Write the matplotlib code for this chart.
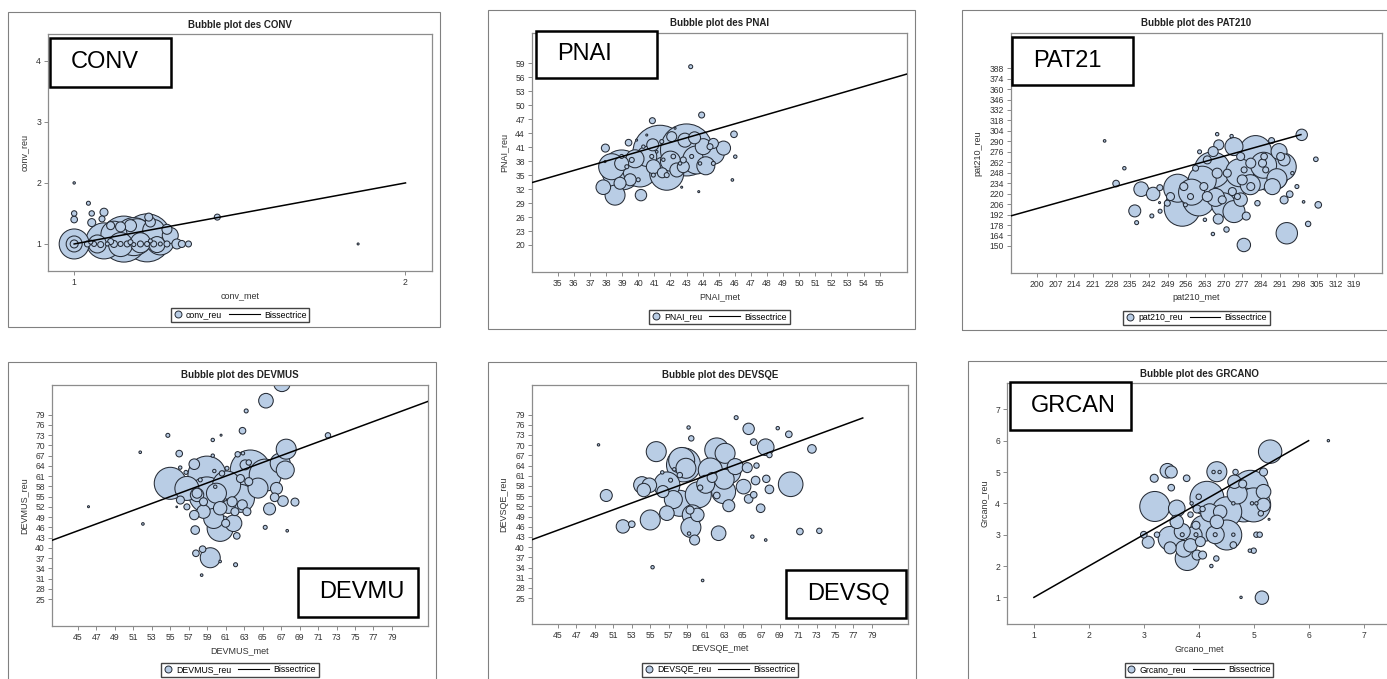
import numpy as np
import matplotlib
matplotlib.use("Agg")
import matplotlib.pyplot as plt
from matplotlib.patches import Rectangle
from matplotlib.lines import Line2D
from matplotlib.legend_handler import HandlerLine2D

plt.rcParams['font.family'] = ['Liberation Sans', 'DejaVu Sans']

# ---- data: (met, reu, bubble radius) per variable ----
conv_met = [1.00, 1.00, 1.00, 1.09, 1.15, 1.22, 1.26, 1.12, 1.19, 1.24, 1.29, 1.07, 1.14, 1.20, 1.25,
            1.17, 1.23, 1.14, 1.28, 1.11, 1.18,
            1.00, 1.00, 1.00, 1.043, 1.053, 1.09, 1.084, 1.053, 1.225, 1.31, 1.325, 1.345, 1.432, 1.857,
            1.04, 1.06, 1.08, 1.10, 1.12, 1.14, 1.16, 1.18, 1.20, 1.22, 1.24, 1.26, 1.28, 1.05, 1.11, 1.17, 1.23]
conv_reu = [1.00, 1.00, 1.00, 1.05, 1.08, 1.10, 1.05, 1.16, 1.20, 1.22, 1.14, 1.00, 0.99, 1.02, 0.99,
            1.30, 1.36, 1.28, 1.24, 1.30, 1.12,
            2.00, 1.50, 1.40, 1.667, 1.50, 1.52, 1.41, 1.35, 1.44, 1.00, 1.00, 1.00, 1.44, 1.00,
            1.00, 1.00, 0.99, 1.00, 1.00, 1.00, 1.00, 0.99, 1.00, 1.00, 1.00, 1.00, 1.00, 1.03, 1.04, 1.03, 1.05]
conv_n = [15, 8, 4, 18, 23, 24, 14, 13, 13, 11, 8, 9, 12, 10, 8,
          6, 5, 5, 5, 4, 19,
          1.2, 2.7, 3.3, 2, 2.7, 4, 3, 4, 4, 5, 3.5, 3, 3, 1,
          3, 2.5, 3, 2, 3.5, 2.5, 3, 2, 3, 2.5, 3, 2, 3, 2, 3, 2.5, 2]

pnai_met = [43.26, 40.88, 43.94, 37.96, 45.95, 46.03, 45.85, 42.7, 43.76, 37.94,
            37.83, 38.56, 40.17, 38.97, 40.11, 41.35, 43.0, 41.77, 43.63, 44.67, 45.3, 38.35, 38.97, 38.87,
            39.4, 40.53, 40.94, 41.5, 42.4, 42.9, 44.04, 42.08,
            40.32, 40.84, 41.56, 42.18, 42.6, 43.32, 43.84, 41.15, 39.9, 42.29, 40.53, 41.46, 39.6, 39.29,
            40.94, 41.77, 42.8, 44.46, 44.67, 40.0, 38.97, 42.8, 44.67, 39.5,
            39.8, 42.0, 44.2, 40.9, 43.5]
pnai_reu = [58.27, 46.68, 47.9, 40.8, 43.76, 38.96, 33.96, 32.4, 31.45, 37.9,
            32.4, 30.7, 30.7, 36.1, 36.1, 39.9, 40.4, 35.4, 38.25, 39.7, 40.8, 36.8, 37.5, 33.25,
            41.96, 39.0, 36.8, 35.5, 36.1, 42.5, 41.1, 43.25,
            41.1, 39.0, 38.3, 39.0, 37.5, 39.0, 37.5, 40.0, 42.5, 45.05, 43.6, 42.2, 38.25, 36.8,
            35.0, 35.0, 38.25, 41.1, 37.5, 34.0, 39.0, 36.8, 41.8, 34.0,
            38.5, 38.0, 37.0, 41.5, 43.0]
pnai_n = [2, 3, 3, 4, 3.3, 1.7, 1.3, 1, 1, 1,
          7.3, 10, 5.7, 20, 17, 27, 26, 17, 14, 11, 7, 13, 7, 6,
          3.3, 10, 7, 5, 7, 7, 8, 5,
          1.7, 2, 1.7, 2.3, 1.7, 2, 1.7, 1.3, 1, 1, 1, 2, 2.5, 2,
          2, 2.5, 3, 3, 2, 2, 2, 6, 5, 6,
          9, 10, 9, 6, 6]

pat_met = [225.4, 232.8, 229.7, 239.1, 243.6, 236.7, 237.4, 243.1, 246.2, 246.1, 246.0,
           254.5, 252.8, 260.7, 265.8, 270.1, 273.9, 277.6, 293.7, 299.3, 304.6, 305.5, 301.7, 300.0, 292.7,
           282.0, 287.7, 282.7, 292.0, 290.8, 288.3, 273.9, 268.2, 266.1, 267.6, 273.0, 288.0, 261.0,
           276.4, 278.5, 268.0, 271.1, 266.0, 263.0,
           276.4, 285.2, 282.7, 294.8, 297.5, 295.8, 255.1, 257.6, 255.7, 263.9, 267.6, 271.4, 273.3,
           262.6, 263.9, 280.2, 284.6, 285.8, 291.4, 277.7, 275.2, 259.5, 248.9, 250.1, 269.5, 277.0,
           280.2, 292.7, 262.0, 276.0, 285.0, 258.0, 270.0, 280.0, 267.0, 290.0]
pat_reu = [290.6, 254.0, 233.5, 226.0, 219.6, 196.9, 181.2, 190.2, 196.5, 228.0, 208.0,
           200.5, 227.3, 211.6, 251.8, 229.4, 196.0, 151.3, 167.0, 298.7, 266.0, 205.0, 179.5, 209.0, 211.6,
           276.3, 247.4, 243.0, 256.0, 276.3, 229.4, 283.0, 285.3, 276.3, 299.6, 297.0, 291.0, 276.0,
           212.0, 190.0, 186.0, 172.0, 166.0, 185.0,
           269.7, 269.7, 207.2, 219.3, 229.5, 247.4, 229.5, 216.1, 205.0, 265.2, 247.4, 247.4, 222.8,
           229.5, 216.1, 229.5, 260.8, 251.8, 269.7, 251.8, 216.1, 254.1, 207.2, 216.1, 211.7, 238.4,
           260.8, 265.2, 238.0, 248.0, 258.0, 222.0, 205.0, 232.0, 215.0, 240.0]
pat_n = [1.3, 1.7, 3.3, 7.3, 6.7, 6, 2, 2, 2, 3, 1,
         18, 14, 16, 18, 21, 11, 6.7, 10.7, 5.7, 2.3, 3.3, 2.7, 1.3, 4,
         16, 18, 14, 14, 8, 8, 9, 5, 5, 1.7, 1.7, 3, 2,
         6.7, 4, 5, 2.7, 1.7, 1.7,
         4, 3.3, 2.7, 3.3, 2, 1.7, 4, 3, 2, 4, 5, 4, 4,
         4, 5, 4, 4, 3, 4, 3, 3, 3, 3, 4, 4, 5,
         5, 6, 14, 14, 13, 13, 12, 10, 9, 10]

devmus_met = [67.09, 65.36, 63.22, 62.82, 60.5, 59.6, 54.74, 51.75, 55.97, 72.07, 67.55, 46.15, 52.04, 55.7,
              55.0, 57.6, 59.6, 57.7, 57.78, 58.5, 59.33, 58.4, 62.07, 60.4, 65.28, 67.66, 68.5, 62.2,
              57.6, 60.4, 59.7, 61.85, 56.1, 56.8, 58.97, 58.97, 61.1, 62.6, 63.66, 65.28, 66.9, 67.45,
              66.5, 66.3, 65.75, 67.2, 57.9, 60.4, 61.3, 62.8, 63.1, 58.6, 62.3,
              62.87, 59.77, 60.6, 61.14, 58.25, 56.7, 56.08, 59.87, 63.5, 62.6, 63.5, 57.9, 61.7, 62.0,
              61.0, 56.8, 63.3, 58.6, 60.0, 64.5]
devmus_reu = [88.2, 83.1, 80.1, 74.3, 73.0, 71.6, 72.95, 68.0, 67.6, 72.95, 68.9, 52.05, 47.0, 52.0,
              58.9, 64.5, 67.0, 45.2, 38.4, 39.6, 37.1, 32.0, 35.05, 36.0, 46.0, 45.0, 53.4, 43.5,
              49.6, 45.7, 48.6, 47.2, 54.0, 57.4, 55.5, 61.3, 58.4, 54.5, 62.8, 61.3, 64.8, 62.8,
              57.4, 54.8, 51.4, 53.7, 55.5, 51.6, 52.05, 52.6, 64.3, 50.6, 67.4,
              67.7, 62.5, 61.8, 63.3, 59.9, 62.1, 63.5, 57.9, 59.4, 60.3, 65.0, 56.0, 53.5, 50.6,
              47.2, 52.0, 50.6, 53.5, 56.0, 57.5]
devmus_n = [8.3, 7.3, 2, 3.3, 1, 1.7, 2, 1.3, 3.3, 2.7, 10, 1, 1.3, 0.8,
            16, 5.3, 1.7, 4.3, 3.3, 3.3, 10, 1.3, 2, 1.3, 2, 1.3, 4, 3.3,
            4.7, 13, 10, 8.3, 4, 12, 18, 19, 14, 14, 20, 16, 10, 9,
            6, 4.3, 6, 5.3, 6.7, 6.7, 6.7, 5, 5, 6.7, 2.7,
            1.7, 1.7, 2.7, 2, 2, 2, 1.7, 1.7, 4, 4, 2.7, 5, 5, 4,
            4, 3, 4, 4, 10, 10]

devsqe_met = [49.4, 50.24, 55.65, 52.04, 53.0, 55.0, 55.25, 60.67, 56.8, 54.1, 54.9, 54.3, 56.37, 58.18,
              56.8, 58.6, 58.4, 58.86, 60.2, 59.55, 59.4, 59.8, 60.1, 59.3, 62.4, 62.94, 62.2, 63.1,
              61.5, 63.5, 64.2, 65.1, 63.5, 65.65, 64.3, 67.5, 70.0, 68.8, 72.5, 70.2, 67.9, 67.56,
              66.4, 66.95, 65.65, 66.2, 66.2, 66.5, 67.9, 65.5, 71.2, 73.3, 66.05, 67.5, 59.15, 59.44,
              56.3, 59.2, 60.4, 58.2, 57.6, 57.2, 61.7, 62.2, 57.5, 61.0, 63.0]
devsqe_reu = [70.1, 55.2, 68.1, 46.1, 46.75, 48.0, 34.1, 30.2, 50.0, 58.3, 58.2, 56.8, 56.35, 52.9,
              58.3, 64.2, 65.5, 63.2, 55.4, 49.5, 45.8, 42.1, 49.5, 50.9, 44.1, 56.35, 68.6, 67.6,
              62.7, 62.2, 63.7, 57.8, 52.2, 74.8, 78.1, 69.4, 73.2, 75.0, 68.9, 58.5, 57.0, 60.1,
              59.6, 51.45, 54.2, 55.4, 70.9, 64.0, 67.1, 63.4, 44.6, 44.8, 43.1, 42.1, 75.2, 72.0,
              62.0, 44.0, 57.5, 61.2, 62.9, 59.7, 60.5, 55.2, 54.0, 58.5, 60.0]
devsqe_n = [1.2, 6, 10, 6.7, 3.3, 10, 1.7, 1.3, 7.3, 8.3, 7.3, 6.7, 6, 13,
            13, 17, 13, 10, 13, 10, 10, 5, 6.7, 4, 7.3, 12, 12, 10,
            12, 12, 8, 7.3, 6, 5.7, 2, 8.3, 3.3, 1.7, 4.3, 12.3, 4.3, 3.7,
            4.3, 4.3, 4.3, 3.3, 3.3, 2.7, 2.7, 5, 3.3, 2.7, 1.7, 1.3, 1.7, 2.7,
            1.7, 1.7, 2.7, 2.7, 1.7, 2, 5, 3.3, 9, 9, 10]

grcano_met = [6.36, 5.30, 5.15, 4.77, 3.19, 3.43, 3.50, 3.50, 3.78, 3.20, 3.00, 3.08, 3.24, 3.48, 3.48,
              3.60, 3.60, 3.79, 3.73, 3.85, 3.97, 4.07, 3.91, 4.09, 4.15, 3.95, 4.03, 4.33, 4.32, 4.23,
              4.33, 4.39, 4.51, 4.51, 4.82, 4.94, 5.00, 5.18, 5.18, 5.18, 5.13, 5.28, 4.67, 4.65, 4.80,
              5.05, 5.11, 5.00, 4.93, 4.63, 4.63, 4.27, 4.38, 4.63, 5.05, 4.97, 3.87, 4.00, 3.97, 4.07,
              3.85, 4.30, 3.70, 3.95, 4.30, 3.70, 4.70, 4.20]
grcano_reu = [6.00, 5.65, 0.99, 1.00, 4.80, 5.04, 5.00, 4.50, 4.80, 3.90, 3.00, 2.76, 3.00, 2.88, 2.58,
              3.84, 3.41, 2.24, 2.55, 2.66, 2.35, 2.35, 2.99, 3.20, 4.16, 3.30, 2.78, 5.01, 2.24, 2.00,
              3.41, 3.73, 2.99, 3.73, 3.95, 4.48, 3.95, 4.37, 3.95, 5.00, 3.68, 3.49, 5.00, 4.69, 4.62,
              3.00, 3.00, 2.49, 2.49, 3.00, 2.67, 5.00, 5.00, 4.00, 4.00, 4.00, 4.00, 4.21, 3.82, 3.82,
              3.64, 3.00, 3.00, 3.00, 3.00, 3.10, 4.30, 3.70]
grcano_n = [1.2, 11.7, 6.7, 1.2, 4, 7.3, 6, 3.3, 3.3, 15, 3.3, 6, 2.7, 12, 6,
            8.3, 6.7, 12, 8.3, 6.7, 5, 4, 8.3, 13, 17, 4, 5, 10, 2.7, 1.7,
            6.7, 6.7, 15, 15, 17, 18, 17, 7.3, 6.7, 4, 2.7, 1, 2.7, 6.7, 4,
            2.7, 2.7, 2.7, 1.7, 1.7, 3.3, 1.7, 1.7, 1.7, 1.7, 1.7, 1.7, 2.7, 4, 2.7,
            2.7, 2, 2, 2, 9, 8, 10, 9]

W, H = 1387, 679
fig = plt.figure(figsize=(W / 100, H / 100), dpi=100)
fig.patch.set_facecolor('white')

FILL = '#b9cde5'
EDGE = '#262c36'


class LongLine(HandlerLine2D):
    # line handle that reaches back into the column gap, so the marker handle can stay short
    def create_artists(self, legend, orig_handle, xdescent, ydescent, width, height, fontsize, trans):
        y = height / 2 - ydescent
        ln = Line2D([-xdescent - 2.6 * fontsize, -xdescent + width], [y, y], color='black', lw=0.8)
        ln.set_transform(trans)
        return [ln]


def px_rect(l, t, r, b):
    return [l / W, 1 - b / H, (r - l) / W, (b - t) / H]


def panel(met, reu, n, name, xname, yname, axbox, frame, xlim, ylim, xticks, yticks,
          line, title_y, lab, lab_box, leg_y):
    # outer frame
    fig.patches.append(Rectangle((frame[0] / W, 1 - frame[3] / H), (frame[2] - frame[0]) / W,
                                 (frame[3] - frame[1]) / H, transform=fig.transFigure,
                                 fill=False, ec='#808080', lw=0.8, zorder=0))
    ax = fig.add_axes(px_rect(*axbox))
    met = np.array(met)
    reu = np.array(reu)
    n = np.array(n, dtype=float)
    order = np.argsort(-n)
    ax.scatter(met[order], reu[order], s=(1.44 * n[order]) ** 2, c=FILL, edgecolors=EDGE,
               linewidths=0.75, zorder=2)
    ax.plot(line, line, color='black', lw=1.1, zorder=3)
    ax.set_xlim(xlim)
    ax.set_ylim(ylim)
    ax.set_xticks(xticks)
    ax.set_yticks(yticks)
    ax.tick_params(labelsize=6.2, length=3, width=0.6, color='#777777', labelcolor='#333333', pad=2)
    for s in ax.spines.values():
        s.set_color('#8c8c8c')
        s.set_linewidth(0.9)
    ax.set_xlabel(xname, fontsize=6.5, color='#333333', labelpad=3)
    ax.set_ylabel(yname, fontsize=6.5, color='#333333', labelpad=5)
    fig.text((axbox[0] + axbox[2]) / 2 / W, 1 - title_y / H, 'Bubble plot des ' + name,
             ha='center', va='center', fontsize=7, fontweight='bold', color='#222222')
    mk = Line2D([], [], marker='o', ls='none', mfc=FILL, mec=EDGE, ms=5, mew=0.7)
    ln = Line2D([], [], color='black', lw=0.8)
    ax.legend([mk, ln], [yname, 'Bissectrice'], loc='center', ncol=2, fontsize=6.3,
              bbox_to_anchor=((axbox[0] + axbox[2]) / 2 / W, 1 - leg_y / H),
              bbox_transform=fig.transFigure, frameon=True, fancybox=False, edgecolor='#444444',
              borderpad=0.3, handlelength=0.9, handletextpad=0.5, columnspacing=3.4,
              borderaxespad=0, framealpha=1, handler_map={ln: LongLine()})
    l, t, r, b = lab_box
    fig.patches.append(Rectangle((l / W, 1 - b / H), (r - l) / W, (b - t) / H,
                                 transform=fig.transFigure, fc='white', ec='black', lw=1.8, zorder=5))
    fig.text((l + 21) / W, 1 - (t + b) / 2 / H, lab, ha='left', va='center', fontsize=17,
             color='black', zorder=6)
    return ax


panel(conv_met, conv_reu, conv_n, 'CONV', 'conv_met', 'conv_reu',
      (48, 34, 432, 271), (8, 12, 440, 327), (0.921, 2.08), (0.557, 4.44), [1, 2], [1, 2, 3, 4],
      [1, 2], 25, 'CONV', (50, 38, 171, 87), 315)

panel(pnai_met, pnai_reu, pnai_n, 'PNAI', 'PNAI_met', 'PNAI_reu',
      (532, 33, 907, 272), (488, 10, 915, 329), (33.4, 56.7), (14.2, 65.5),
      list(range(35, 56)), list(range(20, 60, 3)),
      [33.4, 56.7], 23, 'PNAI', (536, 31, 657, 78), 317)

panel(pat_met, pat_reu, pat_n, 'PAT210', 'pat210_met', 'pat210_reu',
      (1011, 33, 1382, 273), (962, 10, 1400, 330), (190.3, 329.4), (113.8, 435),
      list(range(200, 320, 7)), list(range(150, 389, 14)),
      [190.3, 299], 23, 'PAT21', (1012, 37, 1133, 85), 318)

panel(devmus_met, devmus_reu, devmus_n, 'DEVMUS', 'DEVMUS_met', 'DEVMUS_reu',
      (52, 385, 428, 626), (8, 362, 436, 700), (42.2, 82.9), (17.1, 87.7),
      list(range(45, 80, 2)), list(range(25, 80, 3)),
      [42.2, 82.9], 375, 'DEVMU', (298, 568, 418, 617), 670)

panel(devsqe_met, devsqe_reu, devsqe_n, 'DEVSQE', 'DEVSQE_met', 'DEVSQE_reu',
      (532, 385, 908, 624), (488, 362, 916, 700), (42.2, 82.9), (17.4, 87.7),
      list(range(45, 80, 2)), list(range(25, 80, 3)),
      [42.2, 78], 375, 'DEVSQ', (786, 570, 906, 618), 670)

panel(grcano_met, grcano_reu, grcano_n, 'GRCANO', 'Grcano_met', 'Grcano_reu',
      (1007, 383, 1391, 624), (968, 361, 1400, 700), (0.51, 7.5), (0.15, 7.84),
      [1, 2, 3, 4, 5, 6, 7], [1, 2, 3, 4, 5, 6, 7],
      [1, 6], 374, 'GRCAN', (1010, 382, 1131, 430), 670)

fig.savefig('out.png', dpi=100)
